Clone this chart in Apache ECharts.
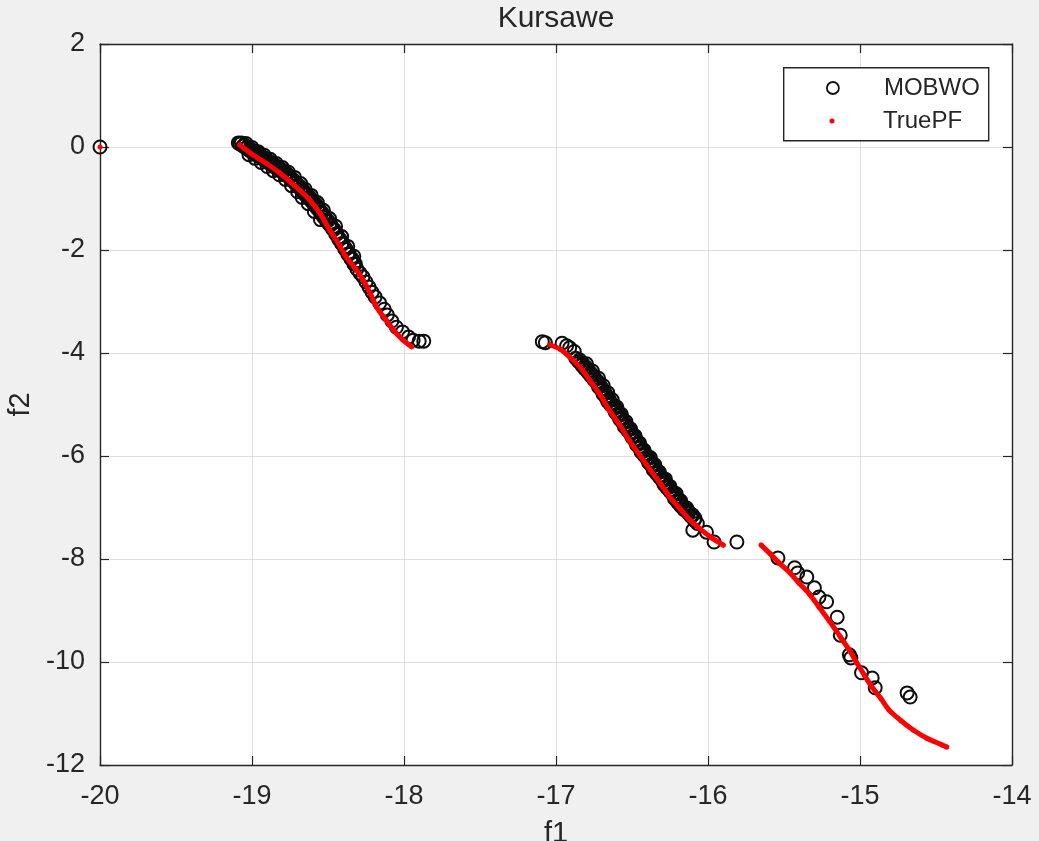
<!DOCTYPE html>
<html>
<head>
<meta charset="utf-8">
<script src="https://cdn.jsdelivr.net/npm/echarts@6/dist/echarts.min.js"></script>
<style>
html,body{margin:0;padding:0;background:#f0f0f0;}
#chart{width:1039px;height:841px;}
</style>
</head>
<body>
<div id="chart"></div>
<script>
// ---- data ----
const xTicks = [-20, -19, -18, -17, -16, -15, -14];
const yTicks = [2, 0, -2, -4, -6, -8, -10, -12];

// MOBWO solutions (f1, f2)
const mobwoIsolated = [[-20.00, 0.00]];
const mobwoSeg1 = [
  [-19.09,0.08],[-19.08,0.06],[-19.06,0.02],[-19.04,-0.02],[-19.02,-0.06],[-19.00,-0.10],
  [-18.98,-0.14],[-18.96,-0.17],[-18.94,-0.21],[-18.92,-0.25],[-18.90,-0.29],[-18.88,-0.33],
  [-18.86,-0.37],[-18.84,-0.41],[-18.82,-0.45],[-18.80,-0.49],[-18.78,-0.54],[-18.76,-0.58],
  [-18.74,-0.64],[-18.72,-0.70],[-18.70,-0.76],[-18.68,-0.82],[-18.67,-0.87],[-18.65,-0.93],
  [-18.63,-0.99],[-18.61,-1.05],[-18.59,-1.13],[-18.57,-1.20],[-18.55,-1.28],[-18.53,-1.36],
  [-18.51,-1.44],[-18.49,-1.51],[-18.47,-1.59],[-18.45,-1.69],[-18.43,-1.79],[-18.41,-1.88],
  [-18.39,-1.98],[-18.37,-2.08],[-18.35,-2.17],[-18.33,-2.27],[-18.31,-2.37],[-18.29,-2.45],
  [-18.27,-2.52],[-18.25,-2.62],[-18.23,-2.72],[-18.21,-2.82],[-18.19,-2.91],[-18.16,-3.03],
  [-18.13,-3.15],[-18.11,-3.26],[-18.08,-3.38],[-18.05,-3.50],[-18.01,-3.59],[-17.97,-3.69],
  [-17.94,-3.75],[-17.90,-3.77],[-17.87,-3.77]
];
const mobwoSeg1Mid = [
  [-19.07,0.08],[-19.05,0.04],[-19.03,0.00],[-19.01,-0.04],[-18.99,-0.08],[-18.97,-0.11],
  [-18.95,-0.15],[-18.93,-0.19],[-18.91,-0.23],[-18.89,-0.27],[-18.87,-0.31],[-18.85,-0.35],
  [-18.83,-0.39],[-18.81,-0.43],[-18.79,-0.47],[-18.77,-0.52],[-18.75,-0.57],[-18.73,-0.63],
  [-18.71,-0.69],[-18.69,-0.75],[-18.66,-0.85],[-18.64,-0.91],[-18.62,-0.97],[-18.60,-1.04],
  [-18.58,-1.11],[-18.56,-1.19],[-18.54,-1.27],[-18.52,-1.35],[-18.50,-1.43],[-18.48,-1.51],
  [-18.46,-1.60],[-18.44,-1.69],[-18.42,-1.79],[-18.40,-1.88],[-18.38,-1.98],[-18.36,-2.08],
  [-18.34,-2.17],[-18.32,-2.27]
];
const mobwoSeg1Upper = [
  [-19.04,0.07],[-19.00,-0.01],[-18.96,-0.09],[-18.92,-0.16],[-18.88,-0.24],[-18.84,-0.32],
  [-18.80,-0.40],[-18.76,-0.49],[-18.72,-0.59],[-18.68,-0.71],[-18.65,-0.82],[-18.61,-0.94],
  [-18.57,-1.08],[-18.53,-1.23],[-18.49,-1.39],[-18.45,-1.54],[-18.41,-1.74],[-18.37,-1.93],
  [-18.33,-2.12]
];
const mobwoSeg1Lower = [
  [-19.02,-0.15],[-18.98,-0.22],[-18.94,-0.30],[-18.90,-0.38],[-18.86,-0.46],[-18.82,-0.54],
  [-18.78,-0.63],[-18.74,-0.75],[-18.70,-0.87],[-18.67,-0.98],[-18.63,-1.10],[-18.59,-1.25],
  [-18.55,-1.41]
];
const mobwoSeg2 = [
  [-17.09,-3.78],[-17.07,-3.80],[-16.96,-3.81],[-16.93,-3.86],[-16.91,-3.90],[-16.88,-3.97],
  [-16.87,-4.10],[-16.85,-4.17],[-16.83,-4.24],[-16.81,-4.31],[-16.79,-4.38],[-16.77,-4.45],
  [-16.75,-4.52],[-16.73,-4.59],[-16.72,-4.66],[-16.70,-4.73],[-16.69,-4.80],[-16.67,-4.87],
  [-16.66,-4.94],[-16.64,-5.01],[-16.62,-5.08],[-16.61,-5.15],[-16.59,-5.22],[-16.58,-5.29],
  [-16.56,-5.36],[-16.55,-5.43],[-16.53,-5.50],[-16.51,-5.57],[-16.50,-5.64],[-16.48,-5.71],
  [-16.47,-5.78],[-16.45,-5.85],[-16.44,-5.92],[-16.42,-5.99],[-16.40,-6.06],[-16.39,-6.13],
  [-16.37,-6.20],[-16.36,-6.27],[-16.34,-6.34],[-16.32,-6.41],[-16.30,-6.48],[-16.29,-6.55],
  [-16.27,-6.62],[-16.25,-6.69],[-16.23,-6.76],[-16.22,-6.83],[-16.20,-6.90],[-16.18,-6.97],
  [-16.16,-7.04],[-16.13,-7.11],[-16.11,-7.18],[-16.09,-7.25],[-16.07,-7.31],[-16.10,-7.44],
  [-16.01,-7.48],[-15.96,-7.67],[-15.81,-7.67]
];
const mobwoSeg2Mid = [
  [-16.845,-4.13],[-16.825,-4.20],[-16.805,-4.27],[-16.785,-4.34],[-16.765,-4.41],[-16.745,-4.48],
  [-16.725,-4.55],[-16.710,-4.62],[-16.695,-4.69],[-16.680,-4.76],[-16.665,-4.83],[-16.650,-4.90],
  [-16.635,-4.97],[-16.615,-5.04],[-16.600,-5.11],[-16.585,-5.18],[-16.570,-5.25],[-16.555,-5.32],
  [-16.540,-5.39],[-16.525,-5.46],[-16.505,-5.53],[-16.490,-5.60],[-16.475,-5.67],[-16.460,-5.74],
  [-16.445,-5.81],[-16.430,-5.88],[-16.415,-5.95],[-16.395,-6.02],[-16.380,-6.09],[-16.365,-6.16],
  [-16.350,-6.23],[-16.335,-6.30],[-16.315,-6.37],[-16.295,-6.44],[-16.280,-6.51],[-16.265,-6.58],
  [-16.245,-6.65],[-16.225,-6.72],[-16.210,-6.79],[-16.195,-6.86],[-16.175,-6.93],[-16.155,-7.00],
  [-16.130,-7.07],[-16.105,-7.14],[-16.085,-7.21]
];
const mobwoSeg2Right = [
  [-16.80,-4.21],[-16.76,-4.35],[-16.72,-4.49],[-16.69,-4.63],[-16.66,-4.77],[-16.63,-4.91],
  [-16.60,-5.05],[-16.57,-5.19],[-16.54,-5.33],[-16.51,-5.47],[-16.48,-5.61],[-16.45,-5.75],
  [-16.42,-5.89],[-16.38,-6.03],[-16.35,-6.17],[-16.32,-6.31],[-16.28,-6.45],[-16.25,-6.59],
  [-16.21,-6.73],[-16.18,-6.87],[-16.14,-7.01],[-16.10,-7.15]
];
const mobwoSeg3 = [
  [-15.54,-7.98],[-15.43,-8.17],[-15.41,-8.27],[-15.35,-8.35],[-15.30,-8.56],[-15.27,-8.74],
  [-15.22,-8.83],[-15.15,-9.13],[-15.13,-9.48],[-15.07,-9.86],[-15.06,-9.92],[-14.99,-10.21],
  [-14.92,-10.31],[-14.90,-10.50],[-14.69,-10.60],[-14.67,-10.68]
];

// True Pareto front (f1, f2)
const truePfIsolated = [[-20.00, 0.00]];
const truePfSeg1 = [
  [-19.08,0.04],[-18.99,-0.16],[-18.90,-0.33],[-18.82,-0.50],[-18.72,-0.75],[-18.62,-1.03],
  [-18.55,-1.30],[-18.49,-1.61],[-18.43,-1.88],[-18.38,-2.14],[-18.32,-2.36],[-18.27,-2.58],
  [-18.22,-2.85],[-18.18,-3.11],[-18.12,-3.35],[-18.07,-3.55],[-18.01,-3.74],[-17.95,-3.88]
];
const truePfSeg2 = [
  [-17.04,-3.84],[-16.97,-3.93],[-16.91,-4.08],[-16.84,-4.28],[-16.78,-4.52],[-16.71,-4.81],
  [-16.65,-5.11],[-16.58,-5.40],[-16.52,-5.69],[-16.45,-5.98],[-16.38,-6.27],[-16.31,-6.55],
  [-16.25,-6.80],[-16.18,-7.04],[-16.12,-7.24],[-16.05,-7.42],[-15.98,-7.58],[-15.90,-7.73]
];
const truePfSeg3 = [
  [-15.65,-7.73],[-15.59,-7.90],[-15.53,-8.08],[-15.46,-8.27],[-15.40,-8.47],[-15.33,-8.69],
  [-15.27,-8.93],[-15.20,-9.21],[-15.13,-9.51],[-15.07,-9.77],[-15.02,-10.02],[-14.97,-10.26],
  [-14.92,-10.49],[-14.86,-10.72],[-14.81,-10.93],[-14.73,-11.14],[-14.65,-11.32],[-14.56,-11.48],
  [-14.46,-11.61],[-14.43,-11.65]
];

// ---- build chart ----
const FONT = '"Liberation Sans", Arial, Helvetica, sans-serif';
const TXT = '#262626';
const GAP = ['-', '-'];

const mobwoData = [].concat(mobwoIsolated, mobwoSeg1, mobwoSeg1Mid, mobwoSeg1Upper, mobwoSeg1Lower,
                            mobwoSeg2, mobwoSeg2Mid, mobwoSeg2Right, mobwoSeg3);
const truePfData = [].concat(truePfIsolated, [GAP], truePfSeg1, [GAP], truePfSeg2, [GAP], truePfSeg3);

const chart = echarts.init(document.getElementById('chart'), null, {renderer: 'canvas'});
const axisCommon = {
  axisLine: {show: true, onZero: false, lineStyle: {color: TXT, width: 1.4}},
  axisTick: {show: true, inside: true, length: 9, lineStyle: {color: TXT, width: 1.2}},
};
chart.setOption({
  backgroundColor: '#f0f0f0',
  animation: false,
  title: {
    text: 'Kursawe', left: 556, top: 4, textAlign: 'center', padding: 0,
    textStyle: {fontFamily: FONT, fontSize: 30, fontWeight: 'normal', color: TXT}
  },
  grid: {left: 100, right: 27, top: 44, bottom: 76, show: true, backgroundColor: '#ffffff',
         borderWidth: 0, containLabel: false, outerBoundsMode: 'none'},
  xAxis: [
    Object.assign({
      type: 'value', position: 'bottom', min: xTicks[0], max: xTicks[xTicks.length - 1], interval: 1,
      name: 'f1', nameLocation: 'middle', nameGap: 54,
      nameTextStyle: {fontFamily: FONT, fontSize: 29, color: TXT},
      axisLabel: {fontFamily: FONT, fontSize: 27, color: TXT, margin: 18},
      splitLine: {show: true, lineStyle: {color: '#dedede', width: 1}}
    }, axisCommon),
    Object.assign({
      type: 'value', position: 'top', min: xTicks[0], max: xTicks[xTicks.length - 1], interval: 1,
      axisLabel: {show: false}, splitLine: {show: false}
    }, axisCommon)
  ],
  yAxis: [
    Object.assign({
      type: 'value', position: 'left', min: yTicks[yTicks.length - 1], max: yTicks[0], interval: 2,
      name: 'f2', nameLocation: 'middle', nameGap: 53,
      nameTextStyle: {fontFamily: FONT, fontSize: 29, color: TXT},
      axisLabel: {fontFamily: FONT, fontSize: 27, color: TXT, margin: 15},
      splitLine: {show: true, lineStyle: {color: '#dedede', width: 1}}
    }, axisCommon),
    Object.assign({
      type: 'value', position: 'right', min: yTicks[yTicks.length - 1], max: yTicks[0], interval: 2,
      axisLabel: {show: false}, splitLine: {show: false}
    }, axisCommon)
  ],
  legend: [
    {
      data: [{name: 'MOBWO', icon: 'circle',
              itemStyle: {color: 'rgba(0,0,0,0)', borderColor: '#111111', borderWidth: 1.8}}],
      left: 826, top: 76, itemWidth: 12, itemHeight: 12, padding: 0, z: 20,
      selectedMode: false,
      textStyle: {fontFamily: FONT, fontSize: 24, color: TXT, padding: [0, 0, 0, 40]}
    },
    {
      data: [{name: 'TruePF', icon: 'circle', itemStyle: {color: '#ff0000', borderWidth: 0}}],
      left: 829.5, top: 109, itemWidth: 5, itemHeight: 5, padding: 0, z: 20,
      selectedMode: false,
      textStyle: {fontFamily: FONT, fontSize: 24, color: TXT, padding: [0, 0, 0, 43.5]}
    }
  ],
  graphic: [{
    type: 'rect', left: 783, top: 67, z: 10,
    shape: {width: 205, height: 73},
    style: {fill: '#ffffff', stroke: TXT, lineWidth: 1.4}
  }],
  series: [
    {
      name: 'MOBWO', type: 'scatter', xAxisIndex: 0, yAxisIndex: 0,
      data: mobwoData, symbol: 'circle', symbolSize: 13, clip: false,
      itemStyle: {color: 'rgba(0,0,0,0)', borderColor: '#0d0d0d', borderWidth: 2, opacity: 1},
      emphasis: {disabled: true}, z: 3
    },
    {
      name: 'TruePF', type: 'line', xAxisIndex: 0, yAxisIndex: 0,
      data: truePfData, smooth: 0.3, connectNulls: false,
      showSymbol: true, symbol: 'circle', symbolSize: 5, clip: false,
      lineStyle: {color: '#ff0000', width: 5, cap: 'round', join: 'round'},
      itemStyle: {color: '#ff0000', borderWidth: 0},
      emphasis: {disabled: true}, z: 4
    }
  ]
});
</script>
</body>
</html>
